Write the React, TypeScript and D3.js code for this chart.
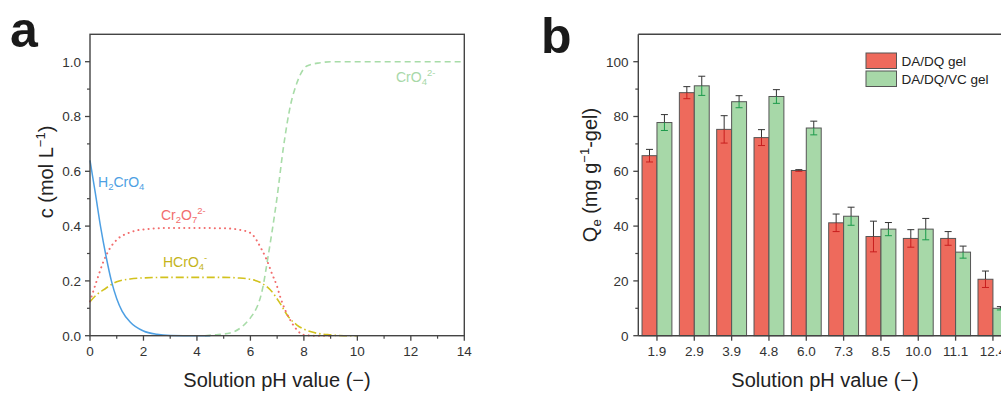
import React from "react";
import * as d3 from "d3";

// ---------- Panel a data: Cr(VI) speciation vs pH ----------
const h2cro4: [number, number][] = [
  [0, 0.64], [0.2, 0.52], [0.4, 0.395], [0.6, 0.29], [0.8, 0.2], [1.0, 0.135],
  [1.2, 0.09], [1.5, 0.05], [2, 0.017], [2.5, 0.005], [3, 0.001], [4, 0], [4.5, 0],
];
const cr2o7: [number, number][] = [
  [0, 0.125], [0.25, 0.2], [0.5, 0.27], [0.75, 0.32], [1, 0.35], [1.5, 0.377],
  [2, 0.388], [3, 0.393], [4, 0.393], [5, 0.392], [5.5, 0.388], [6, 0.375],
  [6.43, 0.313], [6.61, 0.277], [6.8, 0.228], [7.0, 0.179], [7.11, 0.143],
  [7.3, 0.094], [7.49, 0.057], [7.74, 0.021], [7.99, 0.003], [8.5, 0], [9, 0],
];
const hcro4: [number, number][] = [
  [0, 0.124], [0.25, 0.15], [0.5, 0.167], [1, 0.197], [1.5, 0.207], [2, 0.211],
  [3, 0.213], [4, 0.213], [5, 0.213], [5.5, 0.211], [6, 0.206], [6.47, 0.189],
  [6.8, 0.161], [7.11, 0.118], [7.42, 0.069], [7.74, 0.039], [8.24, 0.015],
  [8.99, 0.003], [9.5, 0], [10, 0],
];
const cro4: [number, number][] = [
  [4.3, 0], [4.62, 0.003], [5.24, 0.01], [5.87, 0.05], [6.0, 0.065], [6.47, 0.179],
  [6.66, 0.289], [6.8, 0.374], [6.99, 0.5], [7.24, 0.691], [7.49, 0.837],
  [7.74, 0.923], [8.11, 0.984], [8.61, 0.996], [9, 1.0], [14, 1.0],
];
const phTicks = [0, 2, 4, 6, 8, 10, 12, 14];
const cTicks = [0, 0.2, 0.4, 0.6, 0.8, 1.0];

// ---------- Panel b data: adsorption capacity ----------
const categories = ["1.9", "2.9", "3.9", "4.8", "6.0", "7.3", "8.5", "10.0", "11.1", "12.4"];
const dqValues = [65.7, 88.7, 75.3, 72.3, 60.3, 41.2, 36.2, 35.5, 35.5, 20.6];
const dqErrors = [2.3, 2.2, 5.0, 2.9, 0.3, 3.2, 5.6, 3.2, 2.5, 3.0];
const vcValues = [77.8, 91.2, 85.4, 87.3, 75.8, 43.6, 38.9, 38.9, 30.5, 10.0];
const vcErrors = [2.9, 3.5, 2.2, 2.5, 2.5, 3.3, 2.4, 3.9, 2.2, 0.6];
const seriesNames = ["DA/DQ gel", "DA/DQ/VC gel"];
const qTicks = [0, 20, 40, 60, 80, 100];

const FONT = "'Liberation Sans', Arial, Helvetica, sans-serif";
const AXIS = "#444";
const TICKTXT = "#333";

const TOP = 34.3;
const BOTTOM = 335.7;

export default function App() {
  // Panel a scales
  const xA = d3.scaleLinear().domain([0, 14]).range([90, 464.3]);
  const yA = d3.scaleLinear().domain([0, 1.1]).range([BOTTOM, TOP]);
  const line = d3
    .line<[number, number]>()
    .x((d) => xA(d[0]))
    .y((d) => yA(d[1]))
    .curve(d3.curveMonotoneX);

  // Panel b scales
  const xB = d3
    .scaleBand<string>()
    .domain(categories)
    .range([638.3, 1011.6])
    .paddingInner(0.2)
    .paddingOuter(0.1);
  const sub = d3.scaleBand<string>().domain(["dq", "vc"]).range([0, xB.bandwidth()]);
  const yB = d3.scaleLinear().domain([0, 110]).range([BOTTOM, TOP]);

  const pHMinor = d3.range(1, 14, 2);
  const cMinor = [0.1, 0.3, 0.5, 0.7, 0.9];
  const qMinor = [10, 30, 50, 70, 90];

  const series = [
    { key: "dq", values: dqValues, errors: dqErrors, fill: "#ee6a5c", errLow: "#c81e1e" },
    { key: "vc", values: vcValues, errors: vcErrors, fill: "#a7d8a8", errLow: "#1a9a4a" },
  ];

  return (
    <svg
      width={1001}
      height={394}
      style={{ position: "absolute", left: 0, top: 0, background: "#fff" }}
      fontFamily={FONT}
    >
      <rect x={0} y={0} width={1001} height={394} fill="#fff" />

      {/* ================= Panel a ================= */}
      <text x={10} y={47} fontSize={50} fontWeight="bold" fill="#1a1a1a">a</text>

      {/* curves */}
      <path d={line(cro4) || ""} fill="none" stroke="#a8dca8" strokeWidth={1.6} strokeDasharray="6 4" />
      <path d={line(hcro4) || ""} fill="none" stroke="#d2c21e" strokeWidth={1.6} strokeDasharray="8 3 1.5 3" />
      <path
        d={line(cr2o7) || ""}
        fill="none"
        stroke="#f26d6d"
        strokeWidth={2}
        strokeDasharray="0.1 5"
        strokeLinecap="round"
      />
      <path d={line(h2cro4) || ""} fill="none" stroke="#4d9fe3" strokeWidth={1.5} />

      {/* species labels */}
      <text x={98} y={187} fontSize={14} fill="#4d9fe3">
        H<tspan fontSize={9.5} dy={3}>2</tspan>
        <tspan dy={-3}>CrO</tspan>
        <tspan fontSize={9.5} dy={3}>4</tspan>
      </text>
      <text x={161} y={220} fontSize={14} fill="#f26d6d">
        Cr<tspan fontSize={9.5} dy={3}>2</tspan>
        <tspan dy={-3}>O</tspan>
        <tspan fontSize={9.5} dy={3}>7</tspan>
        <tspan fontSize={9.5} dy={-9}>2-</tspan>
      </text>
      <text x={163} y={267} fontSize={14} fill="#c4b41a">
        HCrO<tspan fontSize={9.5} dy={3}>4</tspan>
        <tspan fontSize={9.5} dy={-9}>-</tspan>
      </text>
      <text x={396} y={82} fontSize={14} fill="#a8d8a8">
        CrO<tspan fontSize={9.5} dy={3}>4</tspan>
        <tspan fontSize={9.5} dy={-9}>2-</tspan>
      </text>

      {/* frame */}
      <rect
        x={xA(0)}
        y={TOP}
        width={xA(14) - xA(0)}
        height={BOTTOM - TOP}
        fill="none"
        stroke={AXIS}
        strokeWidth={1.4}
      />

      {/* x ticks a */}
      {phTicks.map((t) => (
        <g key={"xa" + t}>
          <line x1={xA(t)} x2={xA(t)} y1={BOTTOM} y2={BOTTOM + 5} stroke={AXIS} strokeWidth={1.3} />
          <text x={xA(t)} y={356} fontSize={13.5} textAnchor="middle" fill={TICKTXT}>
            {t}
          </text>
        </g>
      ))}
      {pHMinor.map((t) => (
        <line key={"xam" + t} x1={xA(t)} x2={xA(t)} y1={BOTTOM} y2={BOTTOM + 3} stroke={AXIS} strokeWidth={1.2} />
      ))}
      {/* y ticks a */}
      {cTicks.map((t) => (
        <g key={"ya" + t}>
          <line x1={xA(0) - 5} x2={xA(0)} y1={yA(t)} y2={yA(t)} stroke={AXIS} strokeWidth={1.3} />
          <text x={81} y={yA(t) + 4.8} fontSize={13.5} textAnchor="end" fill={TICKTXT}>
            {d3.format(".1f")(t)}
          </text>
        </g>
      ))}
      {cMinor.map((t) => (
        <line key={"yam" + t} x1={xA(0) - 3} x2={xA(0)} y1={yA(t)} y2={yA(t)} stroke={AXIS} strokeWidth={1.2} />
      ))}

      {/* axis labels a */}
      <text x={277} y={387} fontSize={20} textAnchor="middle" fill="#222">
        Solution pH value (−)
      </text>
      <text transform="translate(53,172) rotate(-90)" fontSize={20} textAnchor="middle" fill="#222">
        c (mol L<tspan fontSize={13} dy={-8}>−1</tspan>
        <tspan dy={8}>)</tspan>
      </text>

      {/* ================= Panel b ================= */}
      <text x={541} y={53} fontSize={50} fontWeight="bold" fill="#1a1a1a">b</text>

      {/* bars */}
      {categories.map((c, i) =>
        series.map((s) => {
          const x0 = (xB(c) || 0) + (sub(s.key) || 0);
          const w = sub.bandwidth();
          const v = s.values[i];
          const e = s.errors[i];
          const cx = x0 + w / 2;
          return (
            <g key={c + s.key}>
              <rect
                x={x0}
                y={yB(v)}
                width={w}
                height={yB(0) - yB(v)}
                fill={s.fill}
                stroke="#555"
                strokeWidth={1}
              />
              <line x1={cx} x2={cx} y1={yB(v + e)} y2={yB(v)} stroke="#333" strokeWidth={1} />
              <line x1={cx} x2={cx} y1={yB(v)} y2={yB(v - e)} stroke={s.errLow} strokeWidth={1} />
              <line x1={cx - 3.5} x2={cx + 3.5} y1={yB(v + e)} y2={yB(v + e)} stroke="#333" strokeWidth={1} />
              <line x1={cx - 3.5} x2={cx + 3.5} y1={yB(v - e)} y2={yB(v - e)} stroke={s.errLow} strokeWidth={1} />
            </g>
          );
        })
      )}

      {/* axes b */}
      <line x1={638.3} x2={1011.6} y1={TOP} y2={TOP} stroke={AXIS} strokeWidth={1.4} />
      <line x1={638.3} x2={1011.6} y1={BOTTOM} y2={BOTTOM} stroke={AXIS} strokeWidth={1.4} />
      <line x1={638.3} x2={638.3} y1={TOP} y2={BOTTOM} stroke={AXIS} strokeWidth={1.4} />
      {categories.map((c) => {
        const cx = (xB(c) || 0) + xB.bandwidth() / 2;
        return (
          <g key={"xb" + c}>
            <line x1={cx} x2={cx} y1={BOTTOM} y2={BOTTOM + 5} stroke={AXIS} strokeWidth={1.3} />
            <text x={cx} y={356} fontSize={13.5} textAnchor="middle" fill={TICKTXT}>
              {c}
            </text>
          </g>
        );
      })}
      {qTicks.map((t) => (
        <g key={"yb" + t}>
          <line x1={633.3} x2={638.3} y1={yB(t)} y2={yB(t)} stroke={AXIS} strokeWidth={1.3} />
          <text x={628.5} y={yB(t) + 4.8} fontSize={13.5} textAnchor="end" fill={TICKTXT}>
            {t}
          </text>
        </g>
      ))}
      {qMinor.map((t) => (
        <line key={"ybm" + t} x1={635.3} x2={638.3} y1={yB(t)} y2={yB(t)} stroke={AXIS} strokeWidth={1.2} />
      ))}

      {/* legend */}
      {series.map((s, i) => (
        <g key={"lg" + s.key}>
          <rect x={866} y={53 + i * 18} width={30.5} height={15.5} fill={s.fill} stroke="#555" strokeWidth={1} />
          <text x={901.5} y={65.5 + i * 18} fontSize={13.5} fill="#222">
            {seriesNames[i]}
          </text>
        </g>
      ))}

      {/* axis labels b */}
      <text x={825} y={387} fontSize={20} textAnchor="middle" fill="#222">
        Solution pH value (−)
      </text>
      <text transform="translate(597,175) rotate(-90)" fontSize={20} textAnchor="middle" fill="#222">
        Q<tspan fontSize={13} dy={4}>e</tspan>
        <tspan dy={-4}> (mg g</tspan>
        <tspan fontSize={13} dy={-8}>−1</tspan>
        <tspan dy={8}>-gel)</tspan>
      </text>
    </svg>
  );
}
